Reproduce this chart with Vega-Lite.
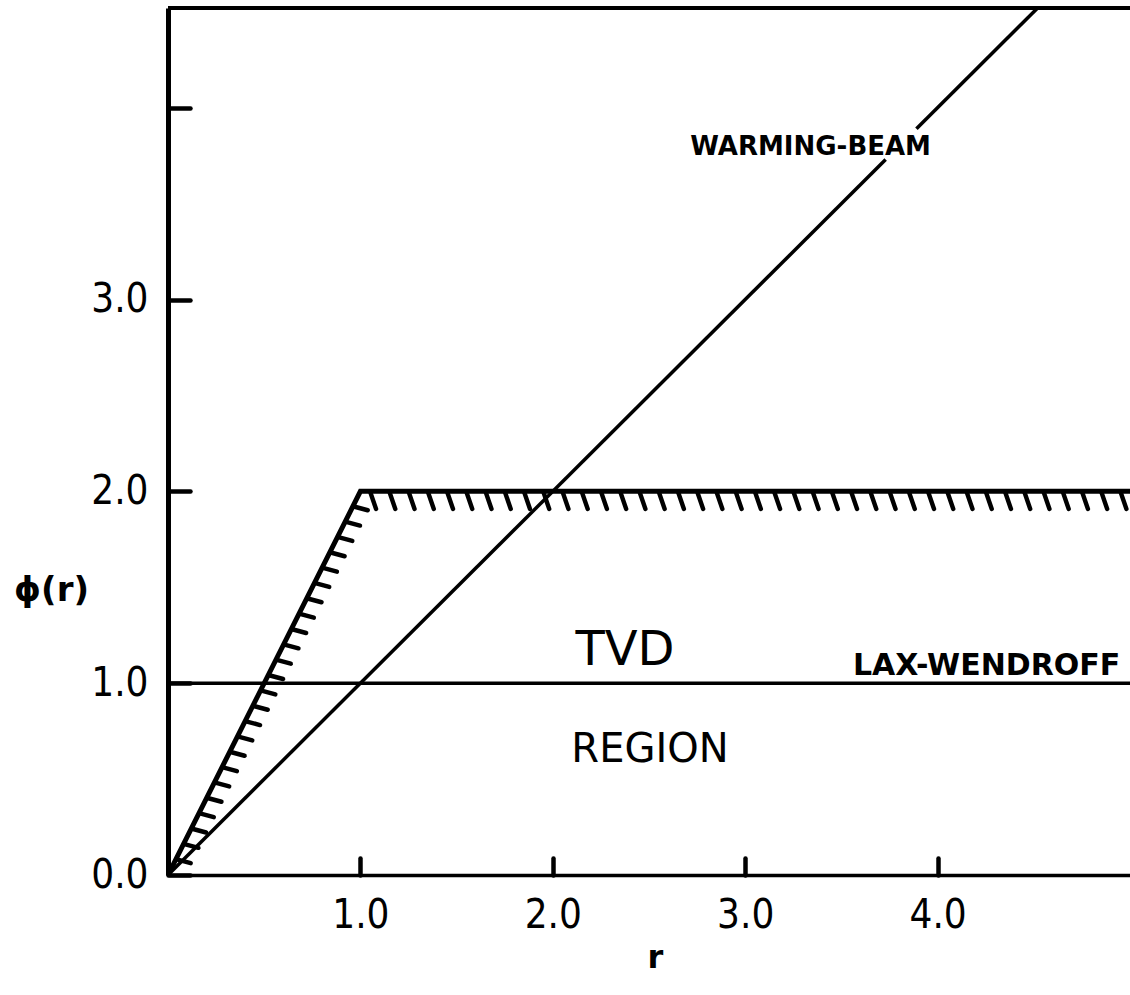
{
  "$schema": "https://vega.github.io/schema/vega-lite/v6.json",
  "width": 962,
  "height": 867,
  "autosize": {"type": "none"},
  "padding": {"left": 168, "top": 8, "right": 0, "bottom": 120},
  "background": "white",
  "config": {"view": {"stroke": null}, "font": "DejaVu Sans"},
  "datasets": {
    "warming_beam": [
      {"r": 0, "phi": 0, "part": "lower"},
      {"r": 3.73, "phi": 3.73, "part": "lower"},
      {"r": 3.89, "phi": 3.89, "part": "upper"},
      {"r": 5, "phi": 5, "part": "upper"}
    ],
    "lax_wendroff": [
      {"r": 0, "phi": 1},
      {"r": 5, "phi": 1}
    ],
    "tvd_bound": [
      {"r": 0, "phi": 0},
      {"r": 1, "phi": 2},
      {"r": 5, "phi": 2}
    ],
    "hatch_flat": [
      {"r": 1.05, "phi": 2}, {"r": 1.15, "phi": 2}, {"r": 1.25, "phi": 2}, {"r": 1.35, "phi": 2},
      {"r": 1.45, "phi": 2}, {"r": 1.55, "phi": 2}, {"r": 1.65, "phi": 2}, {"r": 1.75, "phi": 2},
      {"r": 1.85, "phi": 2}, {"r": 1.95, "phi": 2}, {"r": 2.05, "phi": 2}, {"r": 2.15, "phi": 2},
      {"r": 2.25, "phi": 2}, {"r": 2.35, "phi": 2}, {"r": 2.45, "phi": 2}, {"r": 2.55, "phi": 2},
      {"r": 2.65, "phi": 2}, {"r": 2.75, "phi": 2}, {"r": 2.85, "phi": 2}, {"r": 2.95, "phi": 2},
      {"r": 3.05, "phi": 2}, {"r": 3.15, "phi": 2}, {"r": 3.25, "phi": 2}, {"r": 3.35, "phi": 2},
      {"r": 3.45, "phi": 2}, {"r": 3.55, "phi": 2}, {"r": 3.65, "phi": 2}, {"r": 3.75, "phi": 2},
      {"r": 3.85, "phi": 2}, {"r": 3.95, "phi": 2}, {"r": 4.05, "phi": 2}, {"r": 4.15, "phi": 2},
      {"r": 4.25, "phi": 2}, {"r": 4.35, "phi": 2}, {"r": 4.45, "phi": 2}, {"r": 4.55, "phi": 2},
      {"r": 4.65, "phi": 2}, {"r": 4.75, "phi": 2}, {"r": 4.85, "phi": 2}, {"r": 4.95, "phi": 2}
    ],
    "hatch_slope": [
      {"r": 0.04, "phi": 0.08}, {"r": 0.08, "phi": 0.16}, {"r": 0.12, "phi": 0.24}, {"r": 0.16, "phi": 0.32},
      {"r": 0.2, "phi": 0.4}, {"r": 0.24, "phi": 0.48}, {"r": 0.28, "phi": 0.56}, {"r": 0.32, "phi": 0.64},
      {"r": 0.36, "phi": 0.72}, {"r": 0.4, "phi": 0.8}, {"r": 0.44, "phi": 0.88}, {"r": 0.48, "phi": 0.96},
      {"r": 0.52, "phi": 1.04}, {"r": 0.56, "phi": 1.12}, {"r": 0.6, "phi": 1.2}, {"r": 0.64, "phi": 1.28},
      {"r": 0.68, "phi": 1.36}, {"r": 0.72, "phi": 1.44}, {"r": 0.76, "phi": 1.52}, {"r": 0.8, "phi": 1.6},
      {"r": 0.84, "phi": 1.68}, {"r": 0.88, "phi": 1.76}, {"r": 0.92, "phi": 1.84}, {"r": 0.96, "phi": 1.92}
    ]
  },
  "layer": [
    {
      "data": {"name": "tvd_bound"},
      "mark": {"type": "line", "color": "black", "strokeWidth": 5, "strokeJoin": "miter", "clip": true},
      "encoding": {
        "x": {
          "field": "r", "type": "quantitative",
          "scale": {"domain": [0, 5], "nice": false, "zero": false},
          "axis": {
            "values": [1, 2, 3, 4], "format": ".1f", "grid": false,
            "domainColor": "black", "domainWidth": 3.5,
            "tickColor": "black", "tickSize": -17, "tickWidth": 4.5, "tickCap": "round",
            "labelFont": "DejaVu Sans Condensed, DejaVu Sans", "labelFontSize": 40, "labelColor": "black",
            "labelPadding": 37, "labelFlush": false,
            "title": "r", "titleFont": "DejaVu Sans", "titleFontSize": 32, "titleFontWeight": "bold",
            "titleColor": "black", "titleX": 487, "titleY": 82, "titleAlign": "center", "titleBaseline": "middle"
          }
        },
        "y": {
          "field": "phi", "type": "quantitative",
          "scale": {"domain": [0, 4.52], "nice": false, "zero": false},
          "axis": {
            "values": [0, 1, 2, 3, 4],
            "labelExpr": "datum.value < 4 ? format(datum.value, '.1f') : ''",
            "grid": false,
            "domainColor": "black", "domainWidth": 5,
            "tickColor": "black", "tickSize": -22, "tickWidth": 4.5, "tickCap": "round",
            "labelFont": "DejaVu Sans Condensed, DejaVu Sans", "labelFontSize": 40, "labelColor": "black",
            "labelPadding": 42, "labelFlush": false,
            "title": "ϕ(r)", "titleFont": "DejaVu Sans", "titleFontSize": 34, "titleFontWeight": "bold",
            "titleColor": "black", "titleAngle": 0, "titleX": -117, "titleY": 582,
            "titleAlign": "center", "titleBaseline": "middle"
          }
        }
      }
    },
    {
      "data": {"values": [{}]},
      "mark": {"type": "rule", "color": "black", "strokeWidth": 4},
      "encoding": {"y": {"datum": 4.52, "type": "quantitative"}}
    },
    {
      "data": {"name": "warming_beam"},
      "mark": {"type": "line", "color": "black", "strokeWidth": 3.5, "clip": true},
      "encoding": {
        "x": {"field": "r", "type": "quantitative"},
        "y": {"field": "phi", "type": "quantitative"},
        "detail": {"field": "part"}
      }
    },
    {
      "data": {"name": "lax_wendroff"},
      "mark": {"type": "line", "color": "black", "strokeWidth": 3.5, "clip": true},
      "encoding": {
        "x": {"field": "r", "type": "quantitative"},
        "y": {"field": "phi", "type": "quantitative"}
      }
    },
    {
      "data": {"name": "hatch_flat"},
      "mark": {
        "type": "point", "shape": "M0,0L0.6,1.75", "size": 400, "filled": false,
        "stroke": "black", "strokeWidth": 4.5, "strokeCap": "round", "opacity": 1
      },
      "encoding": {
        "x": {"field": "r", "type": "quantitative"},
        "y": {"field": "phi", "type": "quantitative"}
      }
    },
    {
      "data": {"name": "hatch_slope"},
      "mark": {
        "type": "point", "shape": "M0.2,0L1.5,0.35", "size": 400, "filled": false,
        "stroke": "black", "strokeWidth": 4.5, "strokeCap": "round", "opacity": 1
      },
      "encoding": {
        "x": {"field": "r", "type": "quantitative"},
        "y": {"field": "phi", "type": "quantitative"}
      }
    },
    {
      "data": {"values": [{"r": 3.34, "phi": 3.754, "label": "WARMING-BEAM"}]},
      "mark": {"type": "text", "font": "DejaVu Sans", "fontWeight": "bold", "fontSize": 26, "align": "center", "baseline": "alphabetic", "color": "black"},
      "encoding": {
        "x": {"field": "r", "type": "quantitative"},
        "y": {"field": "phi", "type": "quantitative"},
        "text": {"field": "label"}
      }
    },
    {
      "data": {"values": [{"r": 3.56, "phi": 1.043, "label": "LAX-WENDROFF"}]},
      "mark": {"type": "text", "font": "DejaVu Sans", "fontWeight": "bold", "fontSize": 30, "align": "left", "baseline": "alphabetic", "color": "black"},
      "encoding": {
        "x": {"field": "r", "type": "quantitative"},
        "y": {"field": "phi", "type": "quantitative"},
        "text": {"field": "label"}
      }
    },
    {
      "data": {"values": [{"r": 2.375, "phi": 1.095, "label": "TVD"}]},
      "mark": {"type": "text", "font": "DejaVu Sans", "fontSize": 48, "align": "center", "baseline": "alphabetic", "color": "black"},
      "encoding": {
        "x": {"field": "r", "type": "quantitative"},
        "y": {"field": "phi", "type": "quantitative"},
        "text": {"field": "label"}
      }
    },
    {
      "data": {"values": [{"r": 2.505, "phi": 0.589, "label": "REGION"}]},
      "mark": {"type": "text", "font": "DejaVu Sans", "fontSize": 40, "align": "center", "baseline": "alphabetic", "color": "black"},
      "encoding": {
        "x": {"field": "r", "type": "quantitative"},
        "y": {"field": "phi", "type": "quantitative"},
        "text": {"field": "label"}
      }
    }
  ]
}
